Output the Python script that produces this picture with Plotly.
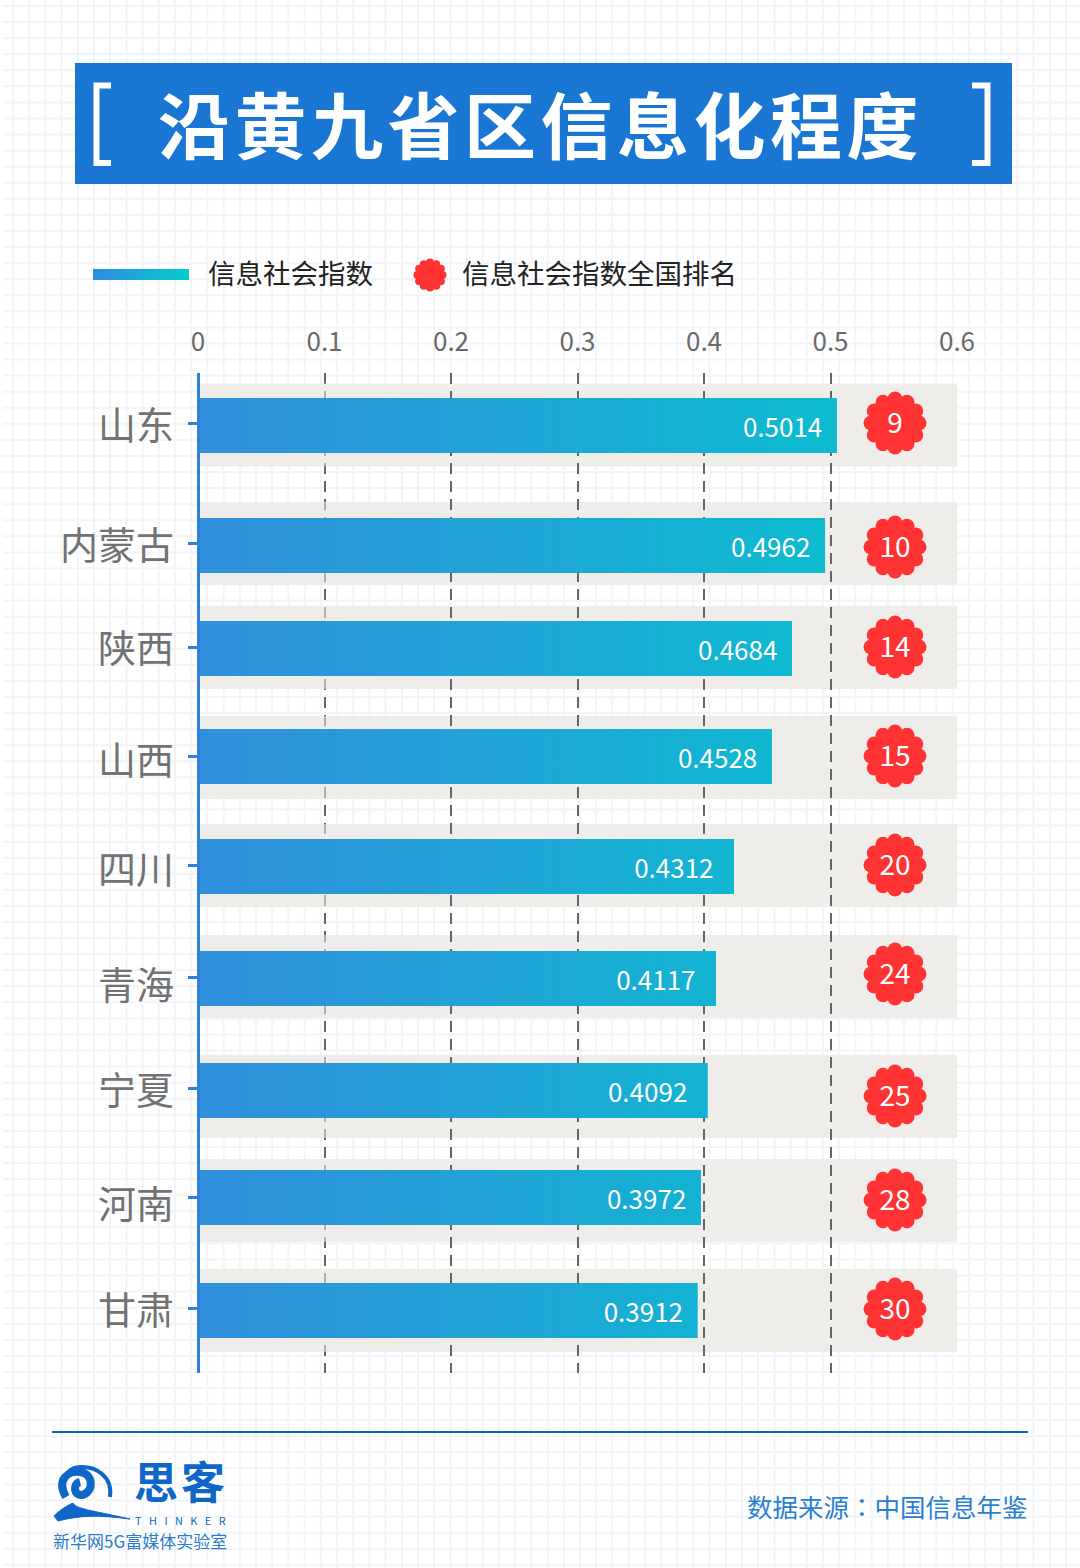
import math
import numpy as np
import plotly.graph_objects as go

# ---------- data ----------
provinces = ["山东", "内蒙古", "陕西", "山西", "四川", "青海", "宁夏", "河南", "甘肃"]
index_labels = ["0.5014", "0.4962", "0.4684", "0.4528", "0.4312", "0.4117", "0.4092", "0.3972", "0.3912"]
drawn_lengths = [0.5051, 0.4957, 0.4696, 0.4537, 0.4237, 0.4095, 0.4030, 0.3976, 0.3950]
ranks = [9, 10, 14, 15, 20, 24, 25, 28, 30]
x_ticks = [0, 0.1, 0.2, 0.3, 0.4, 0.5, 0.6]
x_tick_text = ["0", "0.1", "0.2", "0.3", "0.4", "0.5", "0.6"]

# ---------- layout (page pixels: the y axes are expressed in them) ----------
W, H = 1080, 1568
PLOT_L, PLOT_R, PLOT_T, PLOT_B = 198, 957, 373, 1373
PX_PER_X = (PLOT_R - PLOT_L) / 0.6
row_y = [425.5, 545.5, 648.5, 756.5, 866.5, 978.5, 1090.5, 1197.5, 1310.5]
band_y = [425, 543.5, 647.5, 757.5, 865.5, 976.5, 1096.5, 1200.5, 1310.5]
badge_y = [423, 547, 647, 756, 865, 974, 1096, 1200, 1309]
tick_y = [423, 543, 647, 756, 865, 977, 1088, 1197, 1308]
label_y = [426, 546, 649, 761, 870, 986, 1091, 1205, 1311]
label_pad = [2, 2, 2, 2, 3, 3, 3, 2, 2]
BADGE_X = (895 - PLOT_L) / PX_PER_X
FONT = "Noto Sans CJK SC"
SWATCH = "#2fa0d8"


def px(x):
    return x / W


def py(y):
    return 1 - y / H


def flower(cx_px, cy_px, dist):
    xs, ys = [], []
    for k in range(12):
        a = math.radians(90 + 30 * k)
        xs.append(cx_px + dist * math.cos(a))
        ys.append(cy_px - dist * math.sin(a))
    return xs, ys


def note(text, x, y, size, color, anchor="center", weight=None):
    return dict(text=text, x=px(x), y=py(y), xref="paper", yref="paper", showarrow=False,
                xanchor=anchor, yanchor="middle", align="left",
                font=dict(family=FONT, size=size, color=color, weight=weight))


fig = go.Figure()

# bars
fig.add_trace(go.Bar(
    y=row_y, x=drawn_lengths, orientation="h", width=55,
    marker=dict(color=SWATCH, line=dict(width=0)),
    text=[t + "\u00a0" * p for t, p in zip(index_labels, label_pad)],
    textposition="inside", insidetextanchor="end", constraintext="none", textangle=0,
    textfont=dict(family=FONT, size=26, color="#ffffff"),
    cliponaxis=False, hoverinfo="skip", showlegend=False,
))

# rank badges
pet_x, pet_y = [], []
for by in badge_y:
    xs, ys = flower(895, by, 24)
    pet_x += [(v - PLOT_L) / PX_PER_X for v in xs]
    pet_y += ys
fig.add_trace(go.Scatter(x=pet_x, y=pet_y, mode="markers", hoverinfo="skip", showlegend=False,
                         marker=dict(symbol="circle", size=15, color="#ff3333", opacity=1,
                                     line=dict(width=0))))
fig.add_trace(go.Scatter(x=[BADGE_X] * len(badge_y), y=badge_y, mode="markers",
                         hoverinfo="skip", showlegend=False,
                         marker=dict(symbol="circle", size=40, color="#ff3333", opacity=1,
                                     line=dict(width=0))))
fig.add_trace(go.Scatter(x=[BADGE_X] * len(badge_y), y=[b + 3 for b in badge_y], mode="text",
                         text=[str(r) for r in ranks], textposition="middle center",
                         textfont=dict(family=FONT, size=28, color="#ffffff"),
                         hoverinfo="skip", showlegend=False))

# legend flower, on a page-pixel subplot that also carries the province labels
lx, ly = flower(430, 275, 12.5)
fig.add_trace(go.Scatter(x=lx + [430], y=ly + [275], mode="markers", xaxis="x2", yaxis="y2",
                         hoverinfo="skip", showlegend=False,
                         marker=dict(symbol="circle", size=[8] * 12 + [20], color="#ff3333",
                                     opacity=1, line=dict(width=0))))

shapes = []
# faint squared paper
grid_path = ""
for gx in np.arange(13, W, 16.2):
    grid_path += f"M{px(gx):.5f},{py(0):.5f}L{px(gx):.5f},{py(H):.5f}"
for gy in np.arange(6, H, 16.07):
    grid_path += f"M{px(3):.5f},{py(gy):.5f}L{px(W):.5f},{py(gy):.5f}"
shapes.append(dict(type="path", path=grid_path, xref="paper", yref="paper", layer="below",
                   line=dict(color="#f2f4f8", width=2)))
# grey bands behind rows (below the dashed gridlines)
for by in band_y:
    shapes.append(dict(type="rect", xref="x", yref="y", layer="below", x0=0, x1=0.6,
                       y0=by - 41.5, y1=by + 41.5, fillcolor="#eeedea", line=dict(width=0)))
    # the 0.1 gridline fades inside the bands
    shapes.append(dict(type="rect", xref="x", yref="y", layer="between", x0=0.095, x1=0.105,
                       y0=by - 41.5, y1=by + 41.5, fillcolor="#eeedea", opacity=0.55,
                       line=dict(width=0)))
# vertical axis line, centred on zero
shapes.append(dict(type="line", xref="paper", yref="paper", layer="above",
                   x0=px(PLOT_L + 0.5), x1=px(PLOT_L + 0.5), y0=py(PLOT_T), y1=py(PLOT_B),
                   line=dict(color="#2f80dc", width=3)))
# title box and brackets
shapes.append(dict(type="rect", xref="paper", yref="paper", layer="below",
                   x0=px(75), x1=px(1012), y0=py(184), y1=py(63),
                   fillcolor="#1976d2", line=dict(width=0)))
for x_stem, x_tip in ((96.5, 111), (987.5, 972)):
    shapes.append(dict(type="path", xref="paper", yref="paper", layer="above",
                       path=f"M{px(x_tip)},{py(85.5)}L{px(x_stem)},{py(85.5)}"
                            f"L{px(x_stem)},{py(163)}L{px(x_tip)},{py(163)}",
                       line=dict(color="#ffffff", width=6)))
# legend swatch (gradient painted below)
shapes.append(dict(type="rect", xref="paper", yref="paper", layer="above",
                   x0=px(93), x1=px(189), y0=py(280), y1=py(269),
                   fillcolor="#2fa0d9", line=dict(width=0)))
# footer rule
shapes.append(dict(type="line", xref="paper", yref="paper", layer="above",
                   x0=px(52), x1=px(1028), y0=py(1432), y1=py(1432),
                   line=dict(color="#0a64be", width=2)))


def P(*pts):
    cmd = ""
    for c, *vals in pts:
        cmd += c + " ".join(f"{px(vals[i])},{py(vals[i + 1])}" for i in range(0, len(vals), 2))
    return cmd


LOGO = "#0e66c8"
# logo: spiral
shapes.append(dict(type="path", xref="paper", yref="paper", layer="above",
                   path=P(("M", 110, 1497), ("C", 113, 1476, 95, 1466, 80, 1467),
                          ("C", 63, 1468, 60, 1486, 66, 1495)),
                   line=dict(color=LOGO, width=4)))
shapes.append(dict(type="path", xref="paper", yref="paper", layer="above",
                   path=P(("M", 66, 1497), ("C", 56, 1480, 68, 1470, 80, 1472),
                          ("C", 94, 1474, 94, 1492, 82, 1495),
                          ("C", 74, 1496, 72, 1484, 80, 1482)),
                   line=dict(color=LOGO, width=8)))
# logo: sweep under the spiral
shapes.append(dict(type="path", xref="paper", yref="paper", layer="above", fillcolor=LOGO,
                   path=P(("M", 54, 1516), ("C", 60, 1510, 66, 1506, 73, 1503),
                          ("C", 76, 1509, 90, 1510, 130, 1519),
                          ("C", 100, 1515, 80, 1515, 58, 1521), ("Z",)),
                   line=dict(color=LOGO, width=1)))

title_text = "\u200a".join("沿黄九省区信息化程度")
annotations = [
    note(title_text, 538, 121, 72, "#ffffff", weight=700),
    note("信息社会指数", 206, 272, 27.5, "#222222", "left"),
    note("信息社会指数全国排名", 460, 272, 27.5, "#222222", "left"),
    note("<b>思</b>", 156, 1480, 44, LOGO),
    note("<b>客</b>", 203, 1480, 44, LOGO),
    note("T\u00a0\u00a0\u00a0H\u00a0\u00a0\u00a0I\u00a0\u00a0\u00a0N\u00a0\u00a0\u00a0K\u00a0\u00a0\u00a0E\u00a0\u00a0\u00a0R",
         180, 1520, 11, LOGO),
    note("新华网5G富媒体实验室", 51, 1540, 17, "#2b7ccb", "left"),
    note('数据来源<span style="font-family:Noto Sans CJK TC">：</span>中国信息年鉴',
         1030, 1505, 25.5, "#2b7fcf", "right"),
]

fig.update_layout(
    width=W, height=H, margin=dict(l=0, r=0, t=0, b=0, pad=0, autoexpand=False),
    paper_bgcolor="#ffffff", plot_bgcolor="rgba(0,0,0,0)",
    barmode="overlay", showlegend=False, shapes=shapes, annotations=annotations,
    xaxis=dict(domain=[px(PLOT_L), px(PLOT_R)], range=[0, 0.6], side="top", anchor="y",
               tickvals=x_ticks, ticktext=x_tick_text, ticks="", ticklabelstandoff=16,
               tickfont=dict(family=FONT, size=26, color="#6a6a6a"),
               showgrid=True, gridcolor="#666666", gridwidth=2, griddash="11px,7px",
               zeroline=False, showline=False),
    yaxis=dict(domain=[py(PLOT_B), py(PLOT_T)], range=[PLOT_B, PLOT_T], anchor="x",
               tickvals=tick_y, ticks="outside", ticklen=9, tickwidth=3,
               tickcolor="#2f80dc", showticklabels=False,
               showgrid=False, zeroline=False, showline=False),
    xaxis2=dict(domain=[0, 1], range=[0, W], visible=False, anchor="y2"),
    yaxis2=dict(domain=[0, 1], range=[H, 0], anchor="free", position=px(PLOT_L), side="left",
                tickvals=label_y, ticktext=provinces, ticks="", ticklabelstandoff=24,
                tickfont=dict(family=FONT, size=38, color="#727272"),
                showgrid=False, zeroline=False, showline=False),
)

post = """
document.body.style.margin = '0';
var gd = document.getElementById('{plot_id}');
function grad(svg, id, x1, x2, units, c0, c1) {
  var ns = 'http://www.w3.org/2000/svg';
  if (document.getElementById(id)) return;
  var g = document.createElementNS(ns, 'linearGradient');
  g.setAttribute('id', id);
  g.setAttribute('gradientUnits', units);
  g.setAttribute('x1', x1); g.setAttribute('x2', x2);
  g.setAttribute('y1', 0); g.setAttribute('y2', 0);
  [[0, c0], [1, c1]].forEach(function (s) {
    var st = document.createElementNS(ns, 'stop');
    st.setAttribute('offset', s[0]); st.setAttribute('stop-color', s[1]);
    g.appendChild(st);
  });
  svg.querySelector('defs').appendChild(g);
}
function paint() {
  var svg = gd.querySelector('.main-svg');
  grad(svg, 'barGrad', 0, 639, 'userSpaceOnUse', '#318fdc', '#0cbcd0');
  grad(svg, 'swGrad', 0, 1, 'objectBoundingBox', '#2f8cdf', '#03ccce');
  gd.querySelectorAll('.bars .point path').forEach(function (p) { p.style.fill = 'url(#barGrad)'; });
  gd.querySelectorAll('.shapelayer path').forEach(function (p) {
    if (p.style.fill.replace(/ /g, '') === 'rgb(47,160,217)') p.style.fill = 'url(#swGrad)';
  });
}
paint();
gd.on('plotly_afterplot', paint);
"""
fig.write_html("out.html", post_script=post, config=dict(displayModeBar=False))
